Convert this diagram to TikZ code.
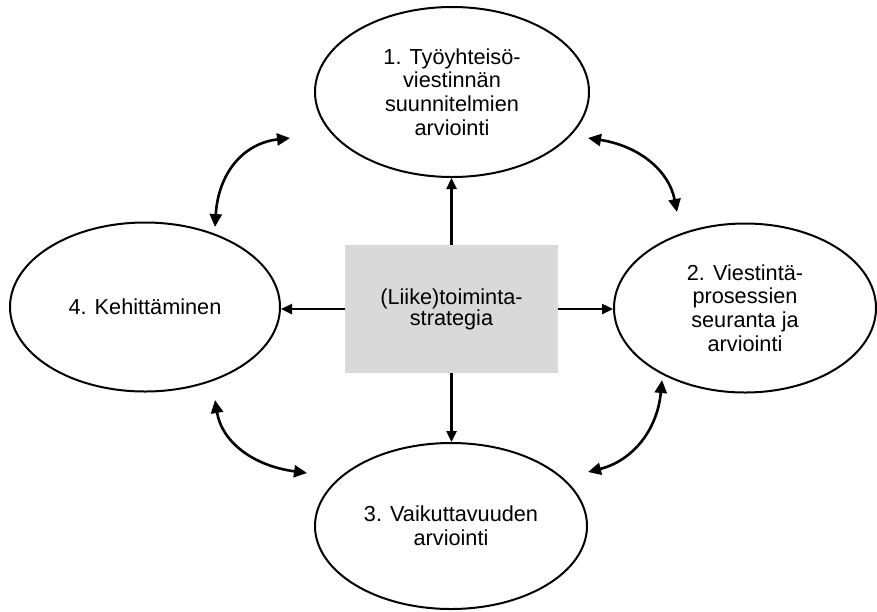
\documentclass[tikz,border=0pt]{standalone}
\usepackage{fontspec}
\setmainfont{Liberation Sans}
\usetikzlibrary{shapes.geometric,arrows.meta}
\definecolor{boxgray}{HTML}{D9D9D9}
\begin{document}
\begin{tikzpicture}[x=1pt,y=-1pt,
  stage/.style={ellipse, draw, line width=2pt, inner sep=0pt, align=center,
    font=\fontsize{21.7}{23.6}\selectfont},
  core/.style={rectangle, fill=boxgray, inner sep=0pt, align=center,
    minimum width=213pt, minimum height=128pt, font=\fontsize{21.7}{20}\selectfont},
  arr/.style={line width=2.4pt, -{Triangle[length=11pt,width=10pt]}},
  dbl/.style={line width=2.6pt,
    {Triangle[length=13pt,width=12pt]}-{Triangle[length=13pt,width=12pt]}}]
\useasboundingbox (0,0) rectangle (877,611);
\node[stage, minimum width=274pt, minimum height=170pt] (e1) at (452,92)
  {1. Työyhteisö-\\viestinnän\\suunnitelmien\\arviointi};
\node[stage, minimum width=262pt, minimum height=169pt] (e2) at (745,308)
  {2. Viestintä-\\prosessien\\seuranta ja\\arviointi};
\node[stage, minimum width=272pt, minimum height=166pt] (e3) at (451,526)
  {3. Vaikuttavuuden\\arviointi};
\node[stage, minimum width=270pt, minimum height=169pt] (e4) at (145,307)
  {4. Kehittäminen};
\node[core] (c) at (451.5,309) {(Liike)toiminta-\\strategia};
\draw[arr] (c.north) -- (c.north |- e1.south);
\draw[arr] (c.south) -- (c.south |- e3.north);
\draw[arr] (c.west) -- (c.west -| e4.east);
\draw[arr] (c.east) -- (c.east -| e2.west);
% curved double arrows
\coordinate (tlA) at (215,227);
\coordinate (tlB) at (290,138);
\coordinate (trA) at (588,138);
\coordinate (trB) at (677,212);
\coordinate (blA) at (215,400);
\coordinate (blB) at (307,473);
\coordinate (brA) at (662,380);
\coordinate (brB) at (588,472);
\draw[dbl] (tlA) .. controls (218.3,173) and (243.3,143.3) .. (tlB);
\draw[dbl] (trA) .. controls (639.3,146) and (669,170.7) .. (trB);
\draw[dbl] (blA) .. controls (221.7,441.3) and (252.3,465.7) .. (blB);
\draw[dbl] (brA) .. controls (657.3,430) and (632.7,460.7) .. (brB);
\end{tikzpicture}
\end{document}
